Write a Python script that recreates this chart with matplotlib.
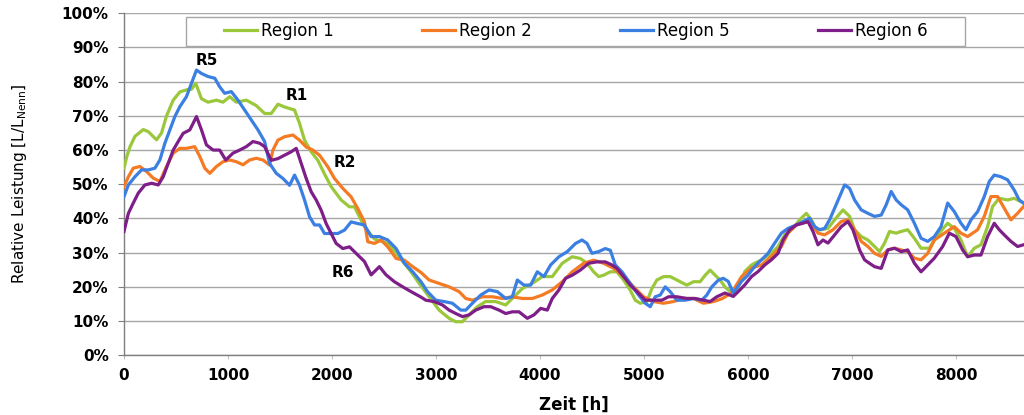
import matplotlib
matplotlib.use("Agg")
import matplotlib.pyplot as plt
from matplotlib.patches import Rectangle
from matplotlib.ticker import FuncFormatter, MultipleLocator

plt.rcParams['font.family'] = ['DejaVu Sans']

# Zeitverlauf der relativen Leistung je Region (Stunden, Prozent)
hours_r1 = [0, 26, 58, 105, 185, 233, 313, 361, 409, 473, 537, 600, 649, 690, 745, 808, 889, 952,
            1016, 1080, 1176, 1272, 1352, 1416, 1480, 1544, 1640, 1688, 1736, 1800, 1864, 1928,
            1992, 2088, 2168, 2216, 2312, 2408, 2536, 2632, 2760, 2838, 2934, 3030, 3126, 3190,
            3254, 3318, 3398, 3478, 3574, 3670, 3766, 3830, 3926, 4022, 4118, 4214, 4310, 4388,
            4452, 4516, 4564, 4612, 4676, 4740, 4804, 4868, 4916, 4964, 5028, 5076, 5124, 5188,
            5252, 5348, 5412, 5476, 5540, 5588, 5636, 5684, 5732, 5778, 5842, 5900, 5970, 6034,
            6130, 6225, 6289, 6353, 6433, 6497, 6561, 6609, 6657, 6705, 6769, 6833, 6913, 6977,
            7025, 7089, 7153, 7217, 7265, 7313, 7361, 7425, 7473, 7536, 7600, 7664, 7744, 7824,
            7920, 7984, 8048, 8112, 8176, 8240, 8304, 8352, 8416, 8496, 8560, 8650]
load_r1 = [54.7, 58, 61, 64, 66, 65.4, 63, 65, 70, 74.6, 77, 77.6, 77.8, 79.5, 75, 74, 74.6, 74,
           75.6, 74, 74.6, 73, 70.7, 70.7, 73.4, 72.6, 71.7, 67.8, 62.9, 59.5, 57, 53,
           49.3, 45.4, 43.4, 43.4, 37.6, 34, 32.7, 29.3, 24.4, 21, 17.1, 13.2, 10.8, 9.8,
           9.8, 11.8, 14.2, 15.7, 15.7, 14.7, 17.6, 19.5, 21, 23, 23, 26.9, 28.8, 28.3,
           26.9, 24.4, 23, 23.4, 24.4, 24.4, 22, 19, 16.1, 15.2, 15.7, 19.5, 22, 23,
           23, 21.5, 20.5, 21.5, 21.5, 23.4, 24.9, 23.4, 22, 20, 18.2, 19.5, 24.5, 26.4,
           27.9, 29.8, 31.8, 35.2, 37.1, 39.6, 41.5, 39.6, 36.7, 36.7, 37.1, 39.6, 42.5, 40.6,
           36.7, 34.7, 33.7, 31.8, 30.3, 32.8, 36.2, 35.7, 36.2, 36.7, 34.2, 31.3, 31.3, 35.2,
           38.6, 37.1, 33.7, 28.8, 31.3, 32.3, 37.6, 43.5, 45.9, 45.4, 45.9, 44.5]

hours_r2 = [0, 42, 89, 153, 217, 281, 345, 409, 473, 537, 600, 680, 729, 777, 825, 889, 952,
            1016, 1080, 1144, 1208, 1272, 1336, 1400, 1432, 1480, 1544, 1624, 1688, 1752, 1816,
            1880, 1960, 2024, 2104, 2184, 2248, 2312, 2344, 2408, 2472, 2536, 2616, 2696, 2776,
            2856, 2934, 3030, 3126, 3222, 3286, 3350, 3446, 3542, 3638, 3734, 3830, 3926, 4022,
            4118, 4214, 4310, 4420, 4516, 4612, 4708, 4804, 4900, 4996, 5092, 5188, 5284, 5380,
            5476, 5572, 5668, 5748, 5842, 5938, 6034, 6130, 6225, 6321, 6385, 6465, 6545, 6609,
            6673, 6737, 6817, 6897, 6961, 7025, 7089, 7153, 7217, 7281, 7345, 7409, 7473, 7536,
            7600, 7664, 7728, 7792, 7888, 7984, 8048, 8112, 8208, 8272, 8336, 8400, 8464, 8528,
            8592, 8650]
load_r2 = [49.3, 52.2, 54.7, 55.2, 53.7, 51.8, 50.8, 55.2, 59.1, 60.5, 60.5, 61, 58.1, 54.7, 53.2, 55.2, 56.6,
           57.1, 56.6, 55.7, 57.1, 57.6, 57.1, 55.6, 60, 62.9, 63.9, 64.4, 62.9, 60.9, 60,
           58.5, 55.1, 51.7, 48.8, 46.3, 42.9, 39, 33.2, 32.7, 33.7, 31.7, 28.3, 27.8, 25.9,
           24.2, 22, 21, 20, 18.6, 16.6, 16.1, 17.1, 17.1, 16.6, 17.1, 16.6, 16.6, 17.6,
           19.1, 21.5, 24.4, 26.9, 27.8, 26.9, 25.4, 23, 20, 17.1, 15.7, 15.2, 15.7, 16.6,
           16.6, 15.2, 15.7, 16.5, 18.2, 23, 25.5, 26.4, 28.9, 31.8, 35.7, 38.1, 39.1, 38.6,
           35.7, 35.2, 36.7, 39.1, 39.6, 36.7, 33.3, 31.8, 29.8, 28.9, 30.8, 31.3, 30.8, 30.3,
           28.4, 27.9, 29.8, 33.7, 35.7, 37.6, 35.7, 34.7, 36.7, 40.6, 46.4, 46.4, 43, 39.6,
           41.5, 43.5]

hours_r5 = [0, 42, 105, 169, 233, 297, 345, 393, 441, 489, 537, 600, 649, 697, 745, 808, 873,
            920, 968, 1032, 1096, 1160, 1224, 1288, 1352, 1400, 1464, 1528, 1592, 1640, 1688,
            1736, 1784, 1832, 1880, 1928, 1992, 2056, 2120, 2184, 2248, 2312, 2376, 2456, 2536,
            2616, 2696, 2776, 2856, 2918, 2998, 3078, 3158, 3238, 3286, 3350, 3430, 3510, 3590,
            3670, 3734, 3782, 3846, 3910, 3974, 4038, 4102, 4182, 4262, 4342, 4404, 4452, 4500,
            4564, 4628, 4676, 4724, 4788, 4868, 4948, 5012, 5060, 5108, 5156, 5204, 5252, 5316,
            5396, 5476, 5556, 5604, 5652, 5716, 5762, 5810, 5858, 5938, 6002, 6066, 6130, 6193,
            6257, 6321, 6385, 6465, 6529, 6593, 6641, 6689, 6737, 6785, 6833, 6881, 6929, 6977,
            7025, 7089, 7153, 7217, 7281, 7329, 7377, 7425, 7473, 7536, 7600, 7664, 7728, 7792,
            7856, 7920, 7984, 8048, 8096, 8144, 8208, 8272, 8320, 8368, 8432, 8496, 8560, 8608,
            8650]
load_r5 = [46.4, 49.8, 52.2, 54.2, 54.2, 54.7, 57.1, 62, 65.9, 69.8, 72.7, 75.6, 79.5, 83.4, 82.4, 81.5, 81,
           78.5, 76.6, 77.1, 74.6, 71.7, 68.8, 65.9, 62.5, 56.1, 53.2, 51.7, 49.7, 52.7, 49.7,
           45.4, 40.5, 38.1, 38.1, 35.6, 35.6, 35.6, 36.6, 39, 38.5, 38.1, 34.7, 34.7, 33.7,
           31.2, 26.9, 24.4, 21.5, 18.6, 16.1, 15.7, 15.2, 13.2, 13.2, 15.2, 17.6, 19.1, 18.6,
           16.6, 17.1, 22, 20.5, 20.5, 24.4, 23, 26.4, 28.8, 30.3, 32.7, 33.7, 32.7, 29.8,
           30.3, 31.2, 30.7, 26.4, 24.4, 21, 17.6, 15.2, 14.2, 17.1, 17.6, 20, 18.6, 16.1,
           16.1, 16.6, 16.1, 17.6, 20, 22, 22.5, 21.6, 18.2, 21.6, 23.5, 26, 27.9, 29.8,
           32.8, 35.7, 37.1, 38.1, 39.1, 40.1, 37.6, 36.7, 37.1, 39.6, 43, 46.4, 49.8, 48.8,
           45.4, 42.5, 41.5, 40.6, 41, 44, 47.9, 45.4, 44, 42.5, 38.6, 34.2, 33.3, 34.7,
           37.6, 44.5, 42, 38.6, 36.7, 39.6, 42, 46.4, 50.8, 52.7, 52.2, 51.3, 48.3, 45.4,
           44.5]

hours_r6 = [0, 42, 89, 137, 201, 265, 329, 377, 425, 473, 521, 569, 633, 697, 745, 793, 857,
            920, 978, 1048, 1112, 1176, 1240, 1304, 1352, 1416, 1480, 1544, 1608, 1656, 1704,
            1752, 1800, 1848, 1896, 1944, 1992, 2040, 2104, 2168, 2232, 2312, 2376, 2456, 2520,
            2600, 2680, 2760, 2856, 2902, 2982, 3062, 3126, 3190, 3254, 3318, 3382, 3462, 3526,
            3606, 3670, 3734, 3798, 3878, 3942, 4006, 4070, 4118, 4182, 4246, 4310, 4388, 4468,
            4548, 4628, 4692, 4740, 4804, 4868, 4948, 5012, 5092, 5172, 5236, 5316, 5412, 5492,
            5572, 5636, 5700, 5778, 5858, 5906, 5970, 6034, 6098, 6161, 6225, 6289, 6337, 6401,
            6465, 6529, 6577, 6625, 6673, 6721, 6769, 6833, 6897, 6961, 7009, 7073, 7121, 7153,
            7217, 7281, 7345, 7409, 7473, 7536, 7600, 7664, 7728, 7792, 7872, 7936, 8000, 8064,
            8112, 8176, 8240, 8304, 8368, 8416, 8464, 8528, 8592, 8650]
load_r6 = [36.2, 41.5, 44.5, 47.4, 49.8, 50.3, 49.8, 52.2, 56.1, 60, 62.5, 64.9, 65.9, 69.8, 65.9, 61.5, 60,
           60, 57.1, 59.1, 60, 61, 62.5, 62, 61, 57, 57.5, 58.5, 59.5, 60.5, 56.1,
           51.7, 47.8, 45.4, 42.4, 38.5, 35.6, 32.7, 31.2, 31.7, 29.8, 27.4, 23.5, 25.9, 23.5,
           21.5, 20, 18.6, 17, 16.1, 15.7, 14.7, 13.2, 12.2, 11.3, 11.8, 13.2, 14.2, 14.2,
           13.2, 12.2, 12.7, 12.7, 10.8, 11.8, 13.7, 13.2, 16.6, 19.1, 22.5, 23.4, 24.9, 26.9,
           27.3, 27.3, 26.4, 25.4, 23, 20.5, 18.1, 16.1, 16.1, 16.1, 17.1, 17.1, 16.6, 16.6,
           16.1, 15.7, 17.1, 18.2, 17.2, 18.6, 20.6, 23, 24.5, 26.4, 27.9, 29.8, 33.7, 36.7,
           38.1, 38.6, 39.1, 36.2, 32.3, 33.7, 32.8, 35.2, 37.6, 39.1, 36.7, 30.8, 27.9, 27.2,
           25.9, 25.4, 30.8, 31.3, 30.3, 30.8, 26.9, 24.4, 26.4, 28.4, 31.8, 35.7, 34.7, 30.8,
           28.8, 29.3, 29.3, 34.7, 38.6, 36.7, 35.2, 33.3, 31.8, 32.3]

series = [
    ("Region 1", hours_r1, load_r1, "#9bc83a"),
    ("Region 2", hours_r2, load_r2, "#f47b24"),
    ("Region 5", hours_r5, load_r5, "#3b7fe3"),
    ("Region 6", hours_r6, load_r6, "#7e1e88"),
]

# Kurzbezeichnungen an den Kurven
tags = [("R5", 796, 86.1), ("R1", 1659, 76.1), ("R2", 2119, 56.3), ("R6", 2100, 24.2)]

fig = plt.figure(figsize=(10.24, 4.15), dpi=100)
ax = fig.add_axes([0.1211, 0.144, 0.8789, 0.824])

for name, x, y, col in series:
    ax.plot(x, y, color=col, lw=2.3, label=name, solid_joinstyle="round", zorder=3)

ax.set_xlim(0, 8654)
ax.set_ylim(0, 100)
ax.xaxis.set_major_locator(MultipleLocator(1000))
ax.yaxis.set_major_locator(MultipleLocator(10))
ax.yaxis.set_major_formatter(FuncFormatter(lambda v, p: f"{v:.0f}%"))

ax.grid(axis="y", color="#a6a6a6", lw=1.0, zorder=0)
ax.set_axisbelow(True)
for side in ("top", "right"):
    ax.spines[side].set_visible(False)
for side in ("left", "bottom"):
    ax.spines[side].set_color("#7f7f7f")
    ax.spines[side].set_linewidth(1.0)

ax.tick_params(axis="y", length=4, color="#7f7f7f", pad=7, labelsize=11)
ax.tick_params(axis="x", length=3, color="#bfbfbf", pad=6, labelsize=11)
for lab in ax.get_xticklabels() + ax.get_yticklabels():
    lab.set_fontweight("bold")

ax.set_xlabel("Zeit [h]", fontsize=12, fontweight="bold")
ax.xaxis.set_label_coords(0.5, -0.118)
ax.set_ylabel("Relative Leistung [L/L$_{\\mathregular{Nenn}}$]", fontsize=11)
ax.yaxis.set_label_coords(-0.106, 0.5)

for txt, x, y in tags:
    ax.text(x, y, txt, fontsize=11, fontweight="bold", ha="center", va="center", zorder=4)

# Legendenrahmen und Eintraege
ax.add_patch(Rectangle((0.0686, 0.904), 0.8654, 0.086, transform=ax.transAxes,
                       facecolor="white", edgecolor="#a6a6a6", lw=1.0, zorder=5))
leg = ax.legend(loc="center", bbox_to_anchor=(0.111, 0.918, 0.782, 0.06), ncol=4,
                mode="expand", frameon=False, fontsize=12, handlelength=2.0,
                handletextpad=0.25, borderaxespad=0, borderpad=0)
leg.set_zorder(6)

fig.savefig("out.png", dpi=100)
